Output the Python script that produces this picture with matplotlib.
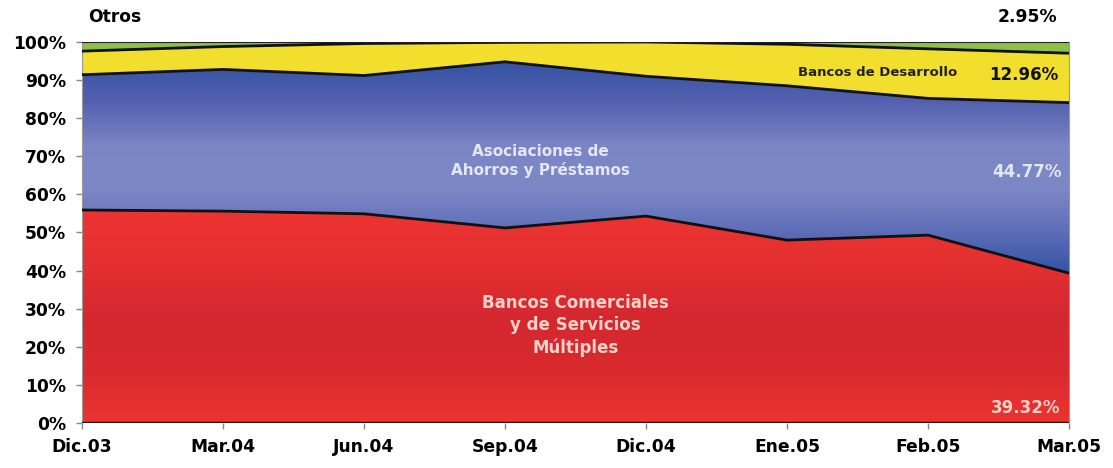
import numpy as np
import matplotlib
matplotlib.use("Agg")
import matplotlib.pyplot as plt
from matplotlib.colors import LinearSegmentedColormap

# datos (porcentaje de participacion, acumulado por tipo de entidad)
periodos = ["Dic.03", "Mar.04", "Jun.04", "Sep.04", "Dic.04", "Ene.05", "Feb.05", "Mar.05"]
comerciales = [55.9, 55.6, 54.9, 51.2, 54.3, 48.0, 49.3, 39.32]
asociaciones = [35.5, 37.2, 36.3, 43.6, 36.7, 40.5, 35.9, 44.77]
desarrollo = [6.2, 6.0, 8.4, 5.1, 9.0, 10.9, 13.0, 12.96]
otros = [2.4, 1.2, 0.4, 0.1, 0.0, 0.6, 1.8, 2.95]

plt.rcParams['font.family'] = ['DejaVu Sans']
plt.rcParams['font.weight'] = 'bold'

x = np.arange(len(periodos))
c1 = np.array(comerciales)
c2 = c1 + np.array(asociaciones)
c3 = c2 + np.array(desarrollo)
c4 = c3 + np.array(otros)

fig = plt.figure(figsize=(11.13, 4.68), dpi=100)
ax = fig.add_axes([0.0737, 0.0962, 0.8868, 0.8141])


def gradient_band(lower, upper, colors, y0, y1):
    poly = ax.fill_between(x, lower, upper, facecolor='none', edgecolor='none')
    cmap = LinearSegmentedColormap.from_list('g', colors)
    grad = np.linspace(0, 1, 256).reshape(-1, 1)
    im = ax.imshow(grad, cmap=cmap, aspect='auto', origin='lower',
                   extent=[x[0], x[-1], y0, y1], zorder=1)
    im.set_clip_path(poly.get_paths()[0], transform=ax.transData)


gradient_band(np.zeros_like(c1), c1, ['#ec3430', '#d82a2e', '#d42830', '#e43030', '#ec3432'], 0, 56)
gradient_band(c1, c2, ['#3452a4', '#5e6eb8', '#7e88c6', '#7a86c4', '#5462b0', '#3452a2'], 39, 95)
ax.fill_between(x, c2, c3, color='#f2de2c', linewidth=0, zorder=1)
ax.fill_between(x, c3, c4, color='#8cc046', linewidth=0, zorder=1)

for serie in (c1, c2, c3):
    ax.plot(x, serie, color='#111111', linewidth=2, zorder=3)
ax.plot(x, c4, color='#222222', linewidth=1.5, zorder=3)
ax.axhline(0, color='#2a1410', linewidth=2.5, zorder=3)

ax.set_xlim(x[0], x[-1])
ax.set_ylim(0, 100)
ax.set_xticks(x)
ax.set_xticklabels(periodos)
ax.set_yticks(np.arange(0, 101, 10))
ax.set_yticklabels([f"{v}%" for v in range(0, 101, 10)])
ax.tick_params(axis='both', labelsize=12.3, length=4, color='#888888', width=1)
ax.tick_params(axis='x', pad=7)
ax.tick_params(axis='y', pad=7.5)
for s in ('top', 'right', 'left'):
    ax.spines[s].set_color('#999999')
ax.spines['bottom'].set_visible(False)

# etiquetas
fig.text(115 / 1113, 1 - 17 / 468, "Otros", ha='center', va='center', fontsize=12.3)
fig.text(1027 / 1113, 1 - 17 / 468, "2.95%", ha='center', va='center', fontsize=12.3)
ax.text(5.64, 92.1, "Bancos de Desarrollo", ha='center', va='center', fontsize=9.5, color='#222222')
ax.text(6.68, 91.3, "12.96%", ha='center', va='center', fontsize=12, color='#111111')
ax.text(3.25, 68.8, "Asociaciones de\nAhorros y Préstamos", ha='center', va='center',
        fontsize=11, color='#e4e6f4', linespacing=1.2)
ax.text(6.7, 65.9, "44.77%", ha='center', va='center', fontsize=12, color='#e4e6f4')
ax.text(3.5, 25.5, "Bancos Comerciales\ny de Servicios\nMúltiples", ha='center', va='center',
        fontsize=12, color='#f6d2c8', linespacing=1.3)
ax.text(6.69, 3.9, "39.32%", ha='center', va='center', fontsize=12, color='#f6d2c8')

fig.savefig("out.png", dpi=100)
